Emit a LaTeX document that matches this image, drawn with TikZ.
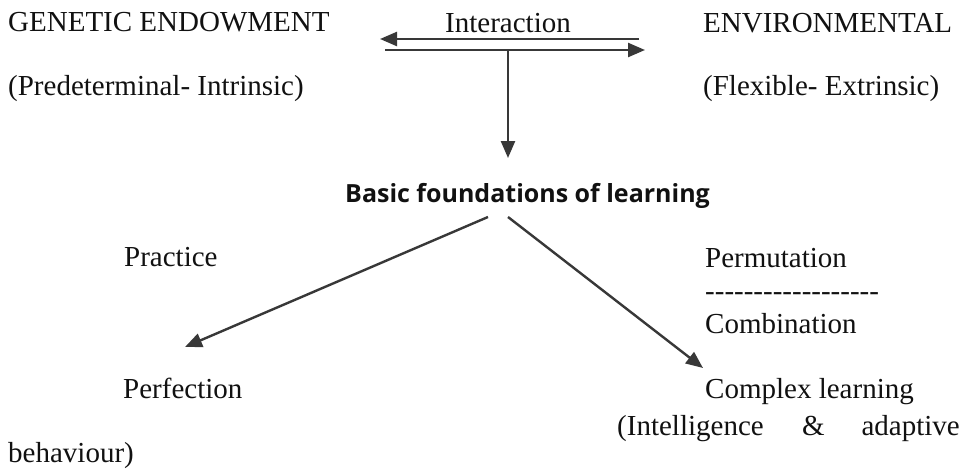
\documentclass[tikz,border=0pt]{standalone}
\usepackage{fontspec}
\setmainfont{Liberation Serif}
\newfontfamily\headsans{Open Sans}
\usetikzlibrary{arrows.meta}
\definecolor{ink}{HTML}{111111}
\definecolor{arrowgray}{HTML}{383838}
\newcommand\hy{\hbox{-}}
\tikzset{
  txt/.style={anchor=base west, inner sep=0pt, text=ink, font=\fontsize{29}{33}\selectfont},
  head/.style={anchor=base west, inner sep=0pt, text=ink, font=\headsans\bfseries\fontsize{25}{29}\selectfont},
  conn/.style={draw=arrowgray, line width=2.4pt, -{Triangle[length=17pt,width=14pt]}},
}
\begin{document}
\begin{tikzpicture}[x=1pt,y=-1pt]
  \useasboundingbox[fill=white] (0,0) rectangle (970,469);

  % the two interacting sources
  \node[txt] (genetic) at (8,31) {GENETIC ENDOWMENT};
  \node[txt] (intrinsic) at (8,95) {(Predeterminal- Intrinsic)};
  \node[txt] (environ) at (703,32) {ENVIRONMENTAL};
  \node[txt] (extrinsic) at (703,95) {(Flexible- Extrinsic)};
  \node[txt] (interaction) at (445,32) {Interaction};

  % double interaction arrow
  \coordinate (topR) at (639,39);
  \coordinate (topL) at (380,39);
  \coordinate (botL) at (385,50);
  \coordinate (botR) at (645,50);
  \coordinate (stem) at (508,50);
  \coordinate (stemEnd) at (508,158);
  \draw[conn] (topR) -- (topL);
  \draw[conn] (botL) -- (botR);
  \draw[conn] (stem) -- (stemEnd);

  % central foundation
  \node[head] (basic) at (345,202) {Basic foundations of learning};

  % left branch
  \node[txt] (practice) at (124,266) {Practice};
  \node[txt] (perfection) at (123,398) {Perfection};

  % right branch
  \node[txt] (permutation) at (705,267) {Permutation};
  \node[txt] (dashes) at (705,300) {\hy\hy\hy\hy\hy\hy\hy\hy\hy\hy\hy\hy\hy\hy\hy\hy\hy\hy};
  \node[txt] (combination) at (705,333) {Combination};
  \node[txt] (complex) at (705,398) {Complex learning};
  \node[txt] (intel) at (617,435) {(Intelligence};
  \node[txt] (amp) at (802,435) {\&};
  \node[txt, anchor=base east] (adaptive) at (960,435) {adaptive};
  \node[txt] (behaviour) at (8,462) {behaviour)};

  % branches out of the foundation
  \coordinate (leftStart) at (488,217);
  \coordinate (leftEnd) at (185,347);
  \coordinate (rightStart) at (508,217);
  \coordinate (rightEnd) at (703,368);
  \draw[conn] (leftStart) -- (leftEnd);
  \draw[conn] (rightStart) -- (rightEnd);
\end{tikzpicture}
\end{document}
